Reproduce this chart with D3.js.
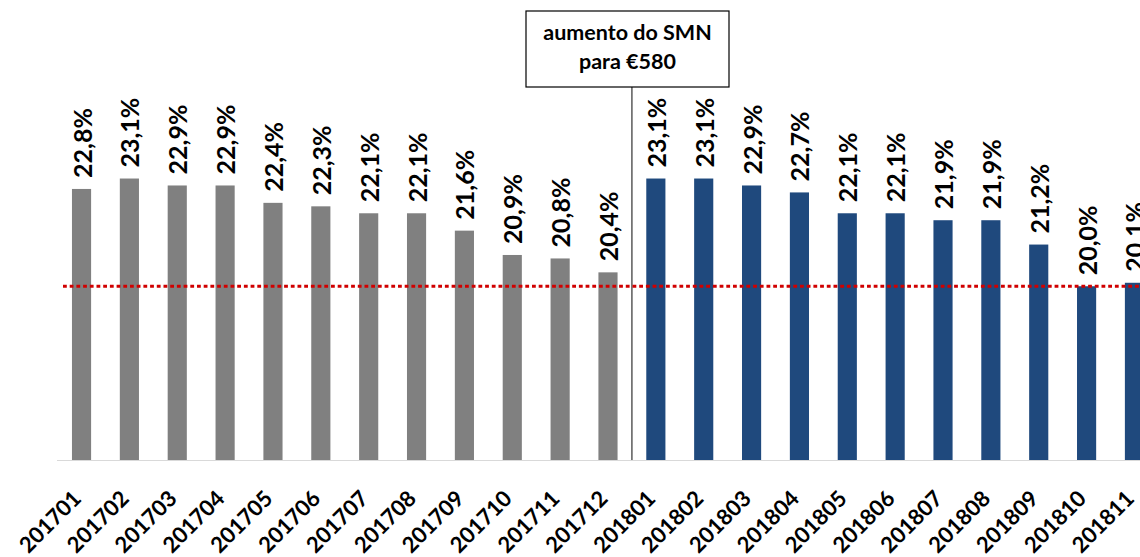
<!DOCTYPE html>
<html><head><meta charset="utf-8">
<script src="https://cdn.jsdelivr.net/npm/d3@7"></script>
<style>html,body{margin:0;padding:0;background:#fff;overflow:hidden}</style>
</head><body>
<svg id="c" width="1140" height="557"></svg>
<script>
const months2017 = ["201701","201702","201703","201704","201705","201706","201707","201708","201709","201710","201711","201712"];
const months2018 = ["201801","201802","201803","201804","201805","201806","201807","201808","201809","201810","201811"];
const values2017 = [22.8,23.1,22.9,22.9,22.4,22.3,22.1,22.1,21.6,20.9,20.8,20.4];
const values2018 = [23.1,23.1,22.9,22.7,22.1,22.1,21.9,21.9,21.2,20.0,20.1];
const referenceValue = 20;
const annotationLines = ["aumento do SMN","para €580"];

const data = months2017.map((m,i)=>({m, v:values2017[i], g:0}))
  .concat(months2018.map((m,i)=>({m, v:values2018[i], g:1})));
const colors = ["#808080","#1F497D"];
const font = "Lato, 'Open Sans', sans-serif";

const svg = d3.select("#c");
const x = d3.scaleBand().domain(data.map(d=>d.m)).range([57.6, 57.6+23*47.86]).paddingInner(0.6).paddingOuter(0.3);
const y = d3.scaleLinear().domain([15,25]).range([460,112.5]);

// axis line
svg.append("line").attr("x1",57).attr("x2",1140).attr("y1",y(15)+0.5).attr("y2",y(15)+0.5)
  .attr("stroke","#d9d9d9").attr("stroke-width",1);

// bars
svg.selectAll("rect.bar").data(data).enter().append("rect")
  .attr("x",d=>x(d.m)).attr("width",x.bandwidth())
  .attr("y",d=>y(d.v)).attr("height",d=>y(15)-y(d.v))
  .attr("fill",d=>colors[d.g]);

// annotation separator
const sepX = (x("201712")+x.bandwidth() + x("201801"))/2;
svg.append("line").attr("x1",sepX).attr("x2",sepX).attr("y1",87).attr("y2",460)
  .attr("stroke","#404040").attr("stroke-width",1.3);

// reference line
svg.append("line").attr("x1",63).attr("x2",1140).attr("y1",y(referenceValue)).attr("y2",y(referenceValue))
  .attr("stroke","#D00000").attr("stroke-width",3).attr("stroke-dasharray","3.8,2.9");

// value labels
svg.selectAll("text.val").data(data).enter().append("text")
  .attr("transform",d=>`translate(${x(d.m)+x.bandwidth()/2+1},${y(d.v)-11}) rotate(-90)`)
  .attr("dy","0.36em").attr("text-anchor","start")
  .style("font-family",font).style("font-weight","bold").style("font-size","25px").attr("fill","#000")
  .text(d=>d3.format(".1f")(d.v).replace(".",",")+"%");

// x labels
svg.selectAll("text.xl").data(data).enter().append("text")
  .attr("transform",d=>`translate(${x(d.m)+x.bandwidth()/2+1},500) rotate(-45)`)
  .attr("text-anchor","end")
  .style("font-family",font).style("font-weight","bold").style("font-size","22px").attr("fill","#000")
  .text(d=>d.m);

// annotation box
svg.append("rect").attr("x",526).attr("y",11).attr("width",203).attr("height",76)
  .attr("fill","#fff").attr("stroke","#000").attr("stroke-width",1.2);
svg.selectAll("text.ann").data(annotationLines).enter().append("text")
  .attr("x",627.5).attr("y",(d,i)=>40+i*29).attr("text-anchor","middle")
  .style("font-family",font).style("font-weight","bold").style("font-size","21.5px").attr("fill","#000")
  .text(d=>d);
</script>
</body></html>
